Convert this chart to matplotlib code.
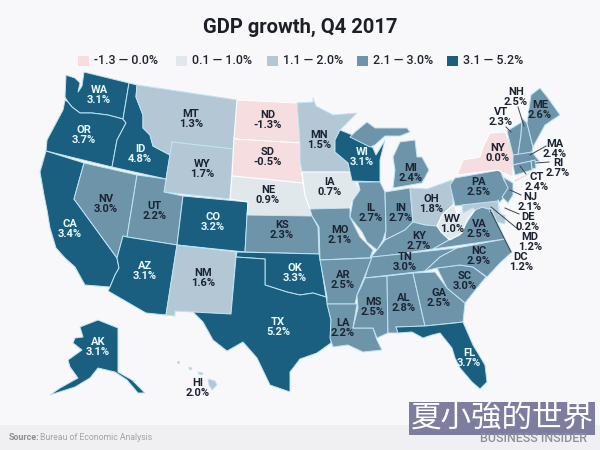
import matplotlib
matplotlib.use('Agg')
import matplotlib.pyplot as plt
from matplotlib.colors import BoundaryNorm, ListedColormap
from matplotlib.patches import Polygon, Rectangle

plt.rcParams['font.family'] = ['Roboto', 'Noto Sans CJK SC', 'DejaVu Sans']

TITLE = 'GDP growth, Q4 2017'
SOURCE_BOLD = 'Source:'
SOURCE = 'Bureau of Economic Analysis'

STATES = ['WA', 'OR', 'CA', 'NV', 'ID', 'MT', 'WY', 'UT', 'AZ', 'CO', 'NM', 'ND', 'SD', 'NE', 'KS', 'OK', 'TX',
          'MN', 'IA', 'MO', 'AR', 'LA', 'WI', 'IL', 'IN', 'MI', 'OH', 'KY', 'TN', 'MS', 'AL', 'GA', 'FL', 'SC',
          'NC', 'VA', 'WV', 'PA', 'NY', 'VT', 'NH', 'ME', 'MA', 'RI', 'CT', 'NJ', 'DE', 'MD', 'DC', 'AK', 'HI']
GROWTH = [3.1, 3.7, 3.4, 3.0, 4.8, 1.3, 1.7, 2.2, 3.1, 3.2, 1.6, -1.3, -0.5, 0.9, 2.3, 3.3, 5.2,
          1.5, 0.7, 2.1, 2.5, 2.2, 3.1, 2.7, 2.7, 2.4, 1.8, 2.7, 3.0, 2.5, 2.8, 2.5, 3.7, 3.0,
          2.9, 2.5, 1.0, 2.5, 0.0, 2.3, 2.5, 2.6, 2.4, 2.7, 2.4, 2.1, 0.2, 1.2, 1.2, 3.1, 2.0]

BIN_EDGES = [-1.35, 0.05, 1.05, 2.05, 3.05, 5.25]
BIN_LABELS = ['-1.3 — 0.0%', '0.1 — 1.0%', '1.1 — 2.0%', '2.1 — 3.0%', '3.1 — 5.2%']
BIN_COLORS = ['#f5dde0', '#e1e8ec', '#b4c7d4', '#6e94aa', '#1a5f80']

# state outlines, in image pixels
OUTLINES = {
    'WA': [[(66, 75), (75, 78), (80, 83), (78, 92), (82, 86), (84, 72), (129, 83), (123, 119), (108, 115), (92, 113),
            (80, 113), (72, 107), (68, 102), (65, 97)]],
    'OR': [[(68, 102), (72, 107), (80, 113), (92, 113), (108, 115), (123, 119), (126, 123), (117, 140), (112, 167),
            (46, 151), (47, 140), (55, 125), (63, 110), (65, 100)]],
    'CA': [[(46, 151), (84, 163), (74, 199), (117, 258), (119, 268), (115, 275), (110, 287), (85, 285), (75, 267),
            (65, 258), (56, 248), (50, 228), (47, 210), (44, 195), (40, 172)]],
    'NV': [[(84, 163), (137, 175), (127, 237), (123, 236), (117, 258), (74, 199)]],
    'ID': [[(129, 83), (137, 85), (136, 97), (143, 115), (143, 128), (150, 135), (153, 146), (170, 155),
            (166, 179), (112, 167), (117, 140), (126, 123), (123, 119)]],
    'MT': [[(137, 85), (237, 100), (233, 149), (172, 142), (170, 155), (153, 146), (150, 135), (143, 128), (143, 115),
            (136, 97)]],
    'WY': [[(172, 142), (233, 149), (230, 199), (164, 192)]],
    'UT': [[(137, 175), (166, 179), (164, 192), (183, 196), (177, 245), (127, 237)]],
    'AZ': [[(127, 237), (177, 245), (166, 315), (146, 313), (108, 291), (110, 287), (115, 275), (119, 268), (117, 258),
            (123, 236)]],
    'CO': [[(183, 196), (248, 202), (245, 252), (177, 245)]],
    'NM': [[(177, 245), (236, 252), (231, 314), (193, 312), (175, 311), (175, 316), (166, 315)]],
    'ND': [[(237, 100), (297, 103), (300, 143), (234, 139)]],
    'SD': [[(234, 139), (300, 143), (300, 160), (303, 183), (232, 176)]],
    'NE': [[(232, 176), (303, 183), (305, 195), (310, 209), (312, 216), (247, 215), (248, 202), (230, 199)]],
    'KS': [[(247, 215), (312, 216), (318, 227), (319, 254), (245, 252)]],
    'OK': [[(237, 252), (319, 254), (321, 264), (326, 297), (313, 293), (300, 295), (287, 292), (265, 285), (265, 259),
            (236, 257)]],
    'TX': [[(236, 257), (265, 259), (265, 285), (287, 292), (300, 295), (313, 293), (326, 297), (331, 320), (331, 343),
            (317, 353), (300, 359), (290, 372), (290, 392), (270, 385), (257, 358), (243, 342), (227, 351), (213, 340),
            (203, 322), (193, 312), (231, 314)]],
    'MN': [[(297, 103), (313, 102), (313, 98), (316, 106), (333, 115), (345, 114), (357, 113), (340, 130), (335, 140),
            (335, 152), (348, 163), (350, 172), (302, 172), (300, 160), (300, 143)]],
    'IA': [[(302, 172), (350, 172), (355, 180), (360, 190), (353, 200), (350, 208), (310, 209), (305, 195)]],
    'MO': [[(310, 209), (350, 208), (350, 217), (360, 237), (373, 250), (370, 258), (363, 258), (320, 260), (319, 227),
            (312, 216)]],
    'AR': [[(320, 260), (372, 258), (368, 268), (357, 295), (355, 304), (327, 304), (327, 297)]],
    'LA': [[(327, 304), (357, 304), (353, 328), (373, 328), (377, 340), (382, 350), (363, 352), (348, 345), (333, 347),
            (330, 338), (331, 320)]],
    'WI': [[(340, 130), (350, 134), (362, 140), (373, 148), (376, 155), (385, 140), (380, 160), (380, 182), (352, 181),
            (348, 163), (335, 152), (335, 140)]],
    'IL': [[(358, 182), (380, 182), (385, 192), (386, 230), (383, 240), (377, 250), (367, 242), (362, 232), (350, 217),
            (353, 200), (360, 190)]],
    'IN': [[(385, 192), (410, 188), (413, 222), (405, 230), (395, 235), (385, 240), (386, 230)]],
    'MI': [[(350, 137), (355, 132), (367, 122), (375, 128), (407, 128), (410, 132), (400, 136), (385, 136), (375, 145),
            (370, 147)],
           [(393, 157), (400, 142), (415, 140), (417, 157), (422, 157), (429, 170), (422, 183), (393, 188), (395, 170)]],
    'OH': [[(410, 188), (427, 189), (452, 180), (453, 205), (442, 215), (437, 226), (425, 225), (413, 222)]],
    'KY': [[(377, 250), (385, 240), (395, 235), (405, 230), (413, 222), (425, 225), (437, 226), (441, 232), (449, 240),
            (433, 249), (385, 256), (371, 257)]],
    'TN': [[(372, 257), (457, 248), (440, 257), (425, 271), (365, 278), (368, 268)]],
    'MS': [[(365, 278), (387, 276), (388, 333), (377, 338), (373, 328), (353, 328), (358, 308), (357, 295), (362, 285)]],
    'AL': [[(387, 276), (413, 273), (422, 313), (425, 326), (396, 327), (398, 333), (388, 333)]],
    'GA': [[(413, 273), (435, 272), (447, 288), (465, 303), (463, 322), (425, 326), (422, 313)]],
    'FL': [[(396, 327), (425, 326), (455, 323), (463, 322), (473, 345), (485, 365), (487, 382), (480, 389), (472, 382),
            (460, 368), (455, 358), (452, 348), (440, 333), (432, 335), (423, 338), (412, 332), (398, 333)]],
    'SC': [[(437, 268), (460, 265), (473, 267), (486, 277), (477, 288), (465, 303), (447, 288)]],
    'NC': [[(457, 248), (505, 239), (512, 252), (500, 263), (487, 277), (473, 267), (460, 265), (437, 268), (425, 271),
            (440, 257)]],
    'VA': [[(475, 210), (482, 207), (492, 210), (497, 222), (505, 239), (433, 249), (449, 240), (460, 235), (467, 222)]],
    'WV': [[(453, 205), (455, 207), (457, 213), (473, 208), (475, 210), (467, 220), (462, 233), (450, 240), (441, 232),
            (437, 226), (442, 215)]],
    'PA': [[(450, 185), (455, 178), (500, 170), (504, 180), (510, 188), (508, 193), (500, 202), (455, 206)]],
    'NY': [[(463, 160), (480, 157), (483, 147), (490, 133), (505, 132), (513, 150), (513, 177), (497, 170), (457, 175)],
           [(513, 180), (530, 172), (531, 174), (515, 183)]],
    'VT': [[(507, 131), (522, 122), (521, 135), (518, 155), (513, 155), (510, 143)]],
    'NH': [[(522, 118), (527, 123), (533, 147), (532, 152), (518, 155), (521, 135)]],
    'ME': [[(531, 95), (540, 88), (548, 98), (560, 115), (545, 125), (533, 147), (527, 123)]],
    'MA': [[(513, 155), (532, 152), (540, 162), (532, 161), (513, 165)]],
    'RI': [[(531, 161), (535, 160), (536, 168), (532, 169)]],
    'CT': [[(513, 165), (531, 161), (532, 170), (515, 175)]],
    'NJ': [[(503, 177), (513, 183), (513, 195), (508, 203), (502, 197), (508, 188)]],
    'DE': [[(498, 200), (502, 212), (505, 215), (499, 215)]],
    'MD': [[(462, 205), (498, 201), (499, 215), (505, 215), (505, 224), (497, 222), (492, 210), (482, 207), (475, 210),
            (473, 208), (463, 213)]],
    'DC': [[(489, 208), (492, 208), (492, 211), (489, 211)]],
    'AK': [[(80, 327), (98, 320), (118, 328), (118, 372), (132, 380), (145, 393), (138, 393), (127, 380), (115, 372),
            (98, 368), (90, 378), (75, 387), (50, 395), (60, 388), (78, 378), (70, 367), (68, 360), (82, 350),
            (73, 343), (75, 338), (83, 337)]],
    'HI': [[(208, 379), (215, 381), (217, 385), (212, 390), (209, 385)],
           [(177, 361), (179, 361), (179, 363), (177, 363)],
           [(189, 367), (192, 368), (191, 370), (189, 369)],
           [(198, 372), (203, 373), (202, 375), (199, 374)]],
}

# centre of the state code line; the value goes one line below
LABEL_AT = {
    'WA': (99, 90), 'OR': (84, 130), 'CA': (70, 224), 'NV': (106, 199), 'ID': (140, 149), 'MT': (191, 114),
    'WY': (202, 164), 'UT': (155, 206), 'AZ': (145, 266), 'CO': (213, 217), 'NM': (203, 273), 'ND': (268, 115),
    'SD': (268, 152), 'NE': (268, 190), 'KS': (282, 225), 'OK': (295, 268), 'TX': (278, 322), 'MN': (319, 135),
    'IA': (330, 182), 'MO': (340, 230), 'AR': (343, 275), 'LA': (343, 323), 'WI': (362, 152), 'IL': (371, 208),
    'IN': (401, 208), 'MI': (411, 168), 'OH': (431, 199), 'KY': (419, 236), 'TN': (405, 257), 'MS': (373, 302),
    'AL': (404, 298), 'GA': (439, 293), 'FL': (469, 353), 'SC': (465, 276), 'NC': (479, 251), 'VA': (479, 224),
    'WV': (452, 219), 'PA': (479, 182), 'NY': (498, 148), 'VT': (501, 112), 'NH': (516, 92), 'ME': (540, 105),
    'MA': (555, 144), 'RI': (558, 163), 'CT': (537, 177), 'NJ': (530, 197), 'DE': (528, 217), 'MD': (530, 237),
    'DC': (521, 257), 'AK': (98, 342), 'HI': (198, 383),
}
LEADERS = {
    'NH': [(518, 107), (524, 126)], 'VT': [(506, 127), (511, 132)], 'MA': [(546, 146), (530, 155)],
    'RI': [(549, 162), (536, 163)], 'CT': [(526, 174), (520, 166)], 'NJ': [(521, 195), (510, 190)],
    'DE': [(519, 214), (505, 208)], 'MD': [(519, 230), (491, 207)], 'DC': [(511, 252), (490, 210)],
}

LEGEND_X = [78, 176, 267, 357, 447]
BORDER = '#bfe4f5'
INK = '#1b2432'
PALE = '#e8f8fd'

fig = plt.figure(figsize=(6, 4.5), dpi=100, facecolor='#f8f8fa')
ax = fig.add_axes([0, 0, 1, 1])
ax.set_xlim(0, 600)
ax.set_ylim(450, 0)
ax.axis('off')

cmap = ListedColormap(BIN_COLORS)
norm = BoundaryNorm(BIN_EDGES, cmap.N)

ax.add_patch(Rectangle((0, 425), 600, 25, fc='#f0f0f2', ec='none'))

for state, value in zip(STATES, GROWTH):
    color = cmap(norm(value))
    edge = BORDER if value > 1.05 else '#ffffff'
    for ring in OUTLINES[state]:
        ax.add_patch(Polygon(ring, closed=True, fc=color, ec=edge, lw=0.7, joinstyle='round'))

for state, line in LEADERS.items():
    ax.plot([line[0][0], line[1][0]], [line[0][1], line[1][1]], color='#3a4450', lw=0.7)

for state, value in zip(STATES, GROWTH):
    x, y = LABEL_AT[state]
    color = PALE if value > 3.05 else INK
    ax.text(x, y, state, ha='center', va='center', fontsize=8, fontweight='bold', color=color)
    ax.text(x, y + 10, f'{value:.1f}%', ha='center', va='center', fontsize=8, fontweight='bold', color=color)

ax.text(300, 27, TITLE, ha='center', va='center', fontsize=14.5, fontweight='bold', color='#1c1f26')

for x, label, color in zip(LEGEND_X, BIN_LABELS, BIN_COLORS):
    ax.add_patch(Rectangle((x, 56), 11, 10, fc=color, ec='none'))
    ax.text(x + 16, 60.5, label, ha='left', va='center', fontsize=8.9, fontweight='medium', color='#20242c')

ax.text(9, 437, SOURCE_BOLD, ha='left', va='center', fontsize=6.4, fontweight='bold', color='#8d8d96')
ax.text(40, 437, SOURCE, ha='left', va='center', fontsize=6.2, color='#a2a2ab')

# pasted-on watermark, bottom right
ax.add_patch(Rectangle((409, 402), 186, 33, fc='#7c7d9f', ec='none'))
ax.text(502, 418, '夏小強的世界', ha='center', va='center', fontsize=22, color='#ffffff')
ax.text(533, 438, 'BUSINESS INSIDER', ha='center', va='center', fontsize=9, fontweight='medium', color='#8f8f9a')

fig.savefig('out.png', dpi=100, facecolor=fig.get_facecolor())
